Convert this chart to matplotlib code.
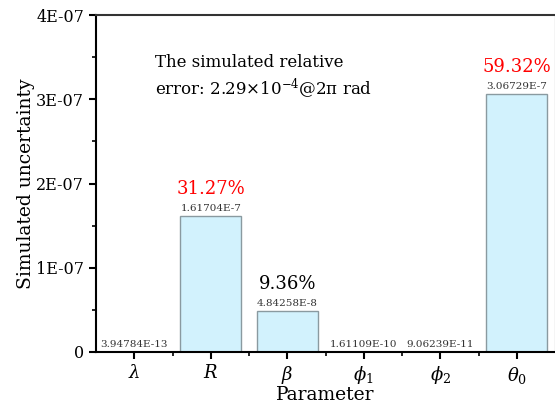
import numpy as np
import matplotlib
matplotlib.use('Agg')
import matplotlib.pyplot as plt
from matplotlib.ticker import MultipleLocator, FixedLocator

params = [r'$\lambda$', r'$R$', r'$\beta$', r'$\phi_1$', r'$\phi_2$', r'$\theta_0$']
values = [3.94784e-13, 1.61704e-7, 4.84258e-8, 1.61109e-10, 9.06239e-11, 3.06729e-7]
value_labels = ['3.94784E-13', '1.61704E-7', '4.84258E-8', '1.61109E-10', '9.06239E-11', '3.06729E-7']
percent = {1: ('31.27%', 'red'), 2: ('9.36%', 'black'), 5: ('59.32%', 'red')}
yticks = [0, 1e-7, 2e-7, 3e-7, 4e-7]
ytick_labels = ['0', '1E-07', '2E-07', '3E-07', '4E-07']

plt.rcParams['font.family'] = ['DejaVu Serif']
plt.rcParams['mathtext.fontset'] = 'dejavuserif'

fig = plt.figure(figsize=(5.55, 4.05), dpi=100)
ax = fig.add_axes([96/555, 53/405, 459/555, 337/405])

x = np.arange(len(params))
ax.bar(x, values, width=0.8, color='#d2f2fd', edgecolor='#8a9aa0', linewidth=1.0, zorder=2)

ax.set_xlim(-0.5, 5.5)
ax.set_ylim(0, 4e-7)
ax.set_yticks(yticks)
ax.set_yticklabels(ytick_labels, fontsize=11.5)
ax.yaxis.set_minor_locator(MultipleLocator(0.5e-7))
ax.set_xticks(x)
ax.set_xticklabels(params, fontsize=13)
ax.xaxis.set_minor_locator(FixedLocator(x[:-1] + 0.5))
ax.tick_params(axis='both', which='major', direction='out', length=5, width=1.5)
ax.tick_params(axis='both', which='minor', direction='out', length=3, width=1.2)
ax.tick_params(axis='x', pad=4)
for s in ['left', 'bottom', 'top']:
    ax.spines[s].set_linewidth(1.5)
ax.spines['top'].set_color('#333333')
ax.spines['right'].set_color('#cccccc')
ax.spines['right'].set_linewidth(1.0)

ax.set_ylabel('Simulated uncertainty', fontsize=13.5, labelpad=1)
ax.set_xlabel('Parameter', fontsize=13.5, labelpad=0)

for i, v in enumerate(values):
    ax.annotate(value_labels[i], (x[i], v), xytext=(0, 2), textcoords='offset points',
                ha='center', va='bottom', fontsize=7.5, color='#333333')
for i, (txt, col) in percent.items():
    ax.annotate(txt, (x[i], values[i]), xytext=(0, 13), textcoords='offset points',
                ha='center', va='bottom', fontsize=13, color=col)

ax.text(0.128, 0.815, 'The simulated relative\nerror: 2.29×10$^{-4}$@2π rad',
        transform=ax.transAxes, fontsize=12, ha='left', va='center', linespacing=1.3)

fig.savefig('out.png', dpi=100)
